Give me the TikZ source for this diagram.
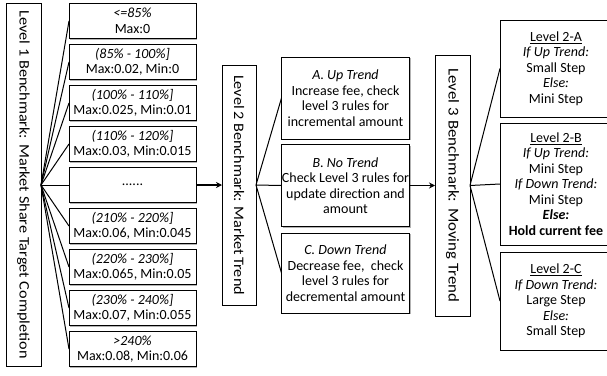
\documentclass[tikz,border=0pt]{standalone}
\usepackage{fontspec}
\setmainfont{Carlito}
\newfontfamily\vlabelfont{Carlito}[FakeStretch=1.12]
\usetikzlibrary{shadows,arrows.meta}
\tikzset{
  box/.style={draw, line width=0.8pt, fill=white, inner sep=0pt, outer sep=0pt,
    align=center, font=\fontsize{14}{15.5}\selectfont,
    drop shadow={shadow xshift=1.3pt, shadow yshift=-1.3pt, fill=black!50, opacity=0.6}},
  vbox/.style={box, font=\vlabelfont\fontsize{14.5}{16}\selectfont},
  fan/.style={line width=1pt},
  flow/.style={line width=1.4pt, -{Stealth[length=6pt,width=6pt]}}
}
\begin{document}
\begin{tikzpicture}[x=1pt,y=-1pt]
\useasboundingbox (0,0) rectangle (607,375);
% Level 1
\node[vbox, minimum width=35, minimum height=363] (L1) at (23.5,184.5)
  {\rotatebox{-90}{\makebox[348pt][s]{Level 1 Benchmark: Market Share Target Completion}}};
\node[box, minimum width=127, minimum height=35] (a1) at (132.5,21) {\textit{<=85\%}\\Max:0};
\node[box, minimum width=127, minimum height=35] (a2) at (132.5,62) {\textit{(85\% - 100\%]}\\Max:0.02, Min:0};
\node[box, minimum width=127, minimum height=35] (a3) at (132.5,103) {\textit{(100\% - 110\%]}\\Max:0.025, Min:0.01};
\node[box, minimum width=127, minimum height=35] (a4) at (132.5,144) {\textit{(110\% - 120\%]}\\Max:0.03, Min:0.015};
\node[box, minimum width=127, minimum height=35] (a5) at (132.5,185) {......};
\node[box, minimum width=127, minimum height=35] (a6) at (132.5,226) {\textit{(210\% - 220\%]}\\Max:0.06, Min:0.045};
\node[box, minimum width=127, minimum height=35] (a7) at (132.5,267) {\textit{(220\% - 230\%]}\\Max:0.065, Min:0.05};
\node[box, minimum width=127, minimum height=35] (a8) at (132.5,308) {\textit{(230\% - 240\%]}\\Max:0.07, Min:0.055};
\node[box, minimum width=127, minimum height=35] (a9) at (132.5,349) {\textit{>240\%}\\Max:0.08, Min:0.06};
\coordinate (f1) at (L1.east |- a5);
\foreach \i in {1,...,9} { \draw[fan] (f1) -- (a\i.west); }
% Level 2
\node[vbox, minimum width=34, minimum height=240] (L2) at (239,185)
  {\rotatebox{-90}{\makebox[220pt][s]{Level 2 Benchmark: Market Trend}}};
\draw[flow] (a5.east) -- (L2.west);
\node[box, minimum width=128, minimum height=82] (b1) at (345.5,98)
  {\textit{A. Up Trend}\\Increase fee, check\\level 3 rules for\\incremental amount};
\node[box, minimum width=128, minimum height=82] (b2) at (345.5,185.5)
  {\textit{B. No Trend}\\Check Level 3 rules for\\update direction and\\amount};
\node[box, minimum width=128, minimum height=80] (b3) at (345.5,273)
  {\textit{C. Down Trend}\\Decrease fee,\ \ check\\level 3 rules for\\decremental amount};
\coordinate (f2) at (L2.east);
\foreach \i in {1,2,3} { \draw[fan] (f2) -- (b\i.west); }
% Level 3
\node[vbox, font=\vlabelfont\fontsize{15}{16}\selectfont, minimum width=35, minimum height=261] (L3) at (452.5,185.5)
  {\rotatebox{-90}{\makebox[234pt][s]{Level 3 Benchmark: Moving Trend}}};
\draw[flow] (b2.east) -- (L3.west);
\node[box, minimum width=112, minimum height=97] (c1) at (556,68.5)
  {\underline{Level 2-A}\\\textit{If Up Trend:}\\Small Step\\\textit{Else:}\\Mini Step};
\node[box, minimum width=112, minimum height=122] (c2) at (556,184)
  {\underline{Level 2-B}\\\textit{If Up Trend:}\\Mini Step\\\textit{If Down Trend:}\\Mini Step\\\textbf{\textit{Else:}}\\\textbf{Hold current fee}};
\node[box, minimum width=112, minimum height=98] (c3) at (556,301)
  {\underline{Level 2-C}\\\textit{If Down Trend:}\\Large Step\\\textit{Else:}\\Small Step};
\coordinate (f3) at (L3.east);
\foreach \i in {1,2,3} { \draw[fan] (f3) -- (c\i.west); }
\end{tikzpicture}
\end{document}
